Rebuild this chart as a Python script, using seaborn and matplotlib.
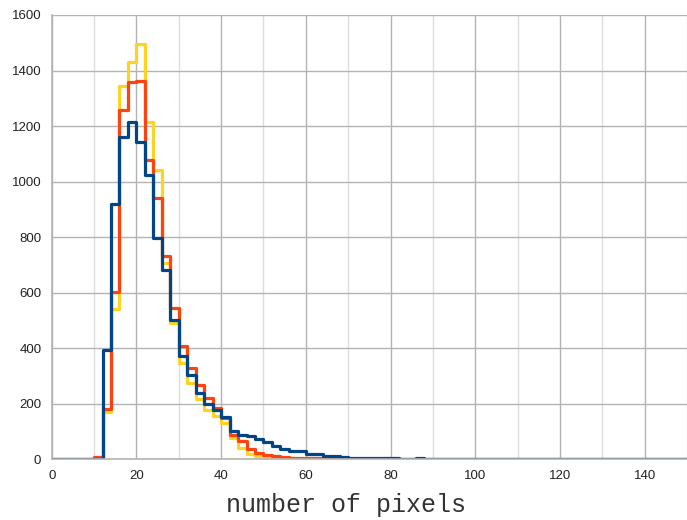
import numpy as np
import pandas as pd
import seaborn as sns
import matplotlib.pyplot as plt

# counts per 2-pixel bin, bins start at 0 and run to 150
bin_width = 2
series_names = ["set 1", "set 2", "set 3"]
series_colors = ["#004586", "#ff420e", "#ffd320"]

blue_counts = [0, 0, 0, 0, 0, 0, 393, 919, 1162, 1214, 1142, 1024, 798, 682, 503,
               371, 304, 238, 199, 178, 151, 100, 86, 82, 72, 62, 48, 35, 30, 28,
               20, 17, 10, 12, 7, 5, 4, 3, 3, 4, 3, 2, 2, 3, 2, 1, 2, 1, 1, 1,
               1, 1, 1, 0, 1, 1, 0, 1, 0, 1, 0, 1, 0, 0, 1, 0, 0, 1, 0, 0,
               1, 0, 0, 0, 0]
orange_counts = [0, 0, 0, 0, 0, 8, 180, 604, 1258, 1360, 1364, 1076, 942, 732, 546,
                 407, 330, 268, 222, 184, 148, 86, 66, 38, 22, 15, 10, 8, 6, 5,
                 4, 3, 2, 2, 1, 1, 1, 0, 1, 0, 0, 1, 0, 0, 0, 0, 0, 0, 0, 0,
                 0, 0, 0, 0, 0, 0, 0, 0, 0, 0, 0, 0, 0, 0, 0, 0, 0, 0, 0, 0,
                 0, 0, 0, 0, 0]
yellow_counts = [0, 0, 0, 0, 0, 0, 170, 540, 1345, 1429, 1496, 1213, 1042, 706, 492,
                 345, 274, 216, 178, 154, 130, 76, 40, 20, 12, 8, 5, 4, 3, 2,
                 2, 1, 1, 0, 0, 0, 0, 0, 0, 0, 0, 0, 0, 0, 0, 0, 0, 0, 0, 0,
                 0, 0, 0, 0, 0, 0, 0, 0, 0, 0, 0, 0, 0, 0, 0, 0, 0, 0, 0, 0,
                 0, 0, 0, 0, 0]

n_bins = len(blue_counts)
centers = np.arange(n_bins) * bin_width + bin_width / 2
frames = []
for name, counts in zip(series_names, [blue_counts, orange_counts, yellow_counts]):
    frames.append(pd.DataFrame({"pixels": centers, "count": counts, "series": name}))
df = pd.concat(frames, ignore_index=True)

sns.set_style("white")
plt.rcParams['font.family'] = ['Liberation Sans', 'DejaVu Sans']

fig, ax = plt.subplots(figsize=(6.87, 5.2), dpi=100)
fig.subplots_adjust(left=0.0753, right=1.0, top=0.9712, bottom=0.1169)

sns.histplot(data=df, x="pixels", weights="count", hue="series",
             hue_order=series_names, palette=series_colors,
             binwidth=bin_width, binrange=(0, n_bins * bin_width),
             element="step", fill=False, linewidth=2.3, legend=False, ax=ax)

ax.set_xlim(0, 150)
ax.set_ylim(0, 1600)
ax.set_xticks(np.arange(0, 141, 20))
ax.set_xticks(np.arange(10, 151, 20), minor=True)
ax.set_yticks(np.arange(0, 1601, 200))
ax.grid(True, which="major", color="#b3b3b3", linewidth=1)
ax.grid(True, which="minor", axis="x", color="#dddddd", linewidth=1)
ax.set_axisbelow(True)

for side in ["top", "right"]:
    ax.spines[side].set_visible(False)
for side in ["left", "bottom"]:
    ax.spines[side].set_color("#b3b3b3")
    ax.spines[side].set_linewidth(1.2)

ax.tick_params(axis="both", which="major", length=4, color="#b3b3b3",
               labelsize=9.5, labelcolor="#222222", direction="out")
ax.tick_params(axis="x", which="minor", length=0)

ax.set_ylabel("")
ax.set_xlabel("number of pixels", family="Liberation Mono", fontsize=18,
              color="#333333")
ax.xaxis.set_label_coords(0.463, -0.076)

fig.savefig("out.png", dpi=100)
